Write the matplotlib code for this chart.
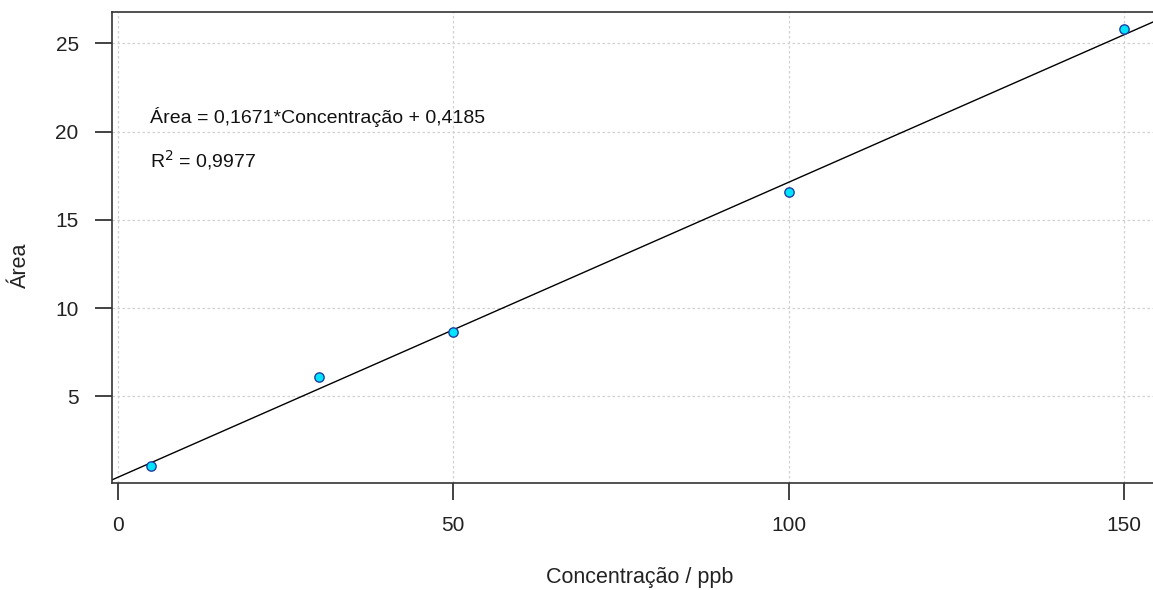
import numpy as np
import matplotlib.pyplot as plt

# dados da curva de calibração
concentracao = [5, 30, 50, 100, 150]
area = [1.08, 6.11, 8.66, 16.58, 25.79]
coef_angular = 0.1671
coef_linear = 0.4185
equacao_texto = "Área = 0,1671*Concentração + 0,4185"
r2_texto = "0,9977"

plt.rcParams['font.family'] = ['Liberation Sans', 'DejaVu Sans']

W, H = 1153, 590
fig = plt.figure(figsize=(W / 100, H / 100), dpi=100)
# eixo um pouco além da borda direita, como no original cortado
ax = fig.add_axes([112 / W, 1 - 483 / H, (1163 - 112) / W, (483 - 12) / H])

ax.set_xlim(-0.85, 155.8)
ax.set_ylim(0.1, 26.77)

ax.grid(True, color='#d0d0d0', linestyle=(0, (2, 2)), linewidth=0.9)
ax.set_axisbelow(True)

xs = np.array(ax.get_xlim())
ax.plot(xs, coef_angular * xs + coef_linear, color='black', linewidth=1.0, zorder=2)

ax.scatter(concentracao, area, s=45, facecolor='#00e5ff', edgecolor='#1f3fa0',
           linewidth=1.0, zorder=3)

ax.set_xticks([0, 50, 100, 150])
ax.set_yticks([5, 10, 15, 20, 25])
ax.tick_params(axis='both', direction='out', length=12, width=1.2,
               color='#222222', labelsize=15, labelcolor='#222222')
ax.tick_params(axis='x', pad=12)
ax.tick_params(axis='y', pad=12)

for s in ['left', 'bottom', 'top']:
    ax.spines[s].set_color('#333333')
    ax.spines[s].set_linewidth(1.2)
ax.spines['right'].set_visible(False)

fig.text(150 / W, 1 - 117 / H, equacao_texto,
         fontsize=14, color='#111111', va='center', ha='left')
fig.text(150 / W, 1 - 160 / H, r"R$^2$ = " + r2_texto,
         fontsize=14, color='#111111', va='center', ha='left')

fig.text(640 / W, 1 - 577 / H, "Concentração / ppb", fontsize=15.5,
         color='#222222', ha='center', va='center')
fig.text(20 / W, 1 - 265 / H, "Área", fontsize=15.5, rotation=90,
         color='#222222', ha='center', va='center')

fig.savefig("out.png", dpi=100)
